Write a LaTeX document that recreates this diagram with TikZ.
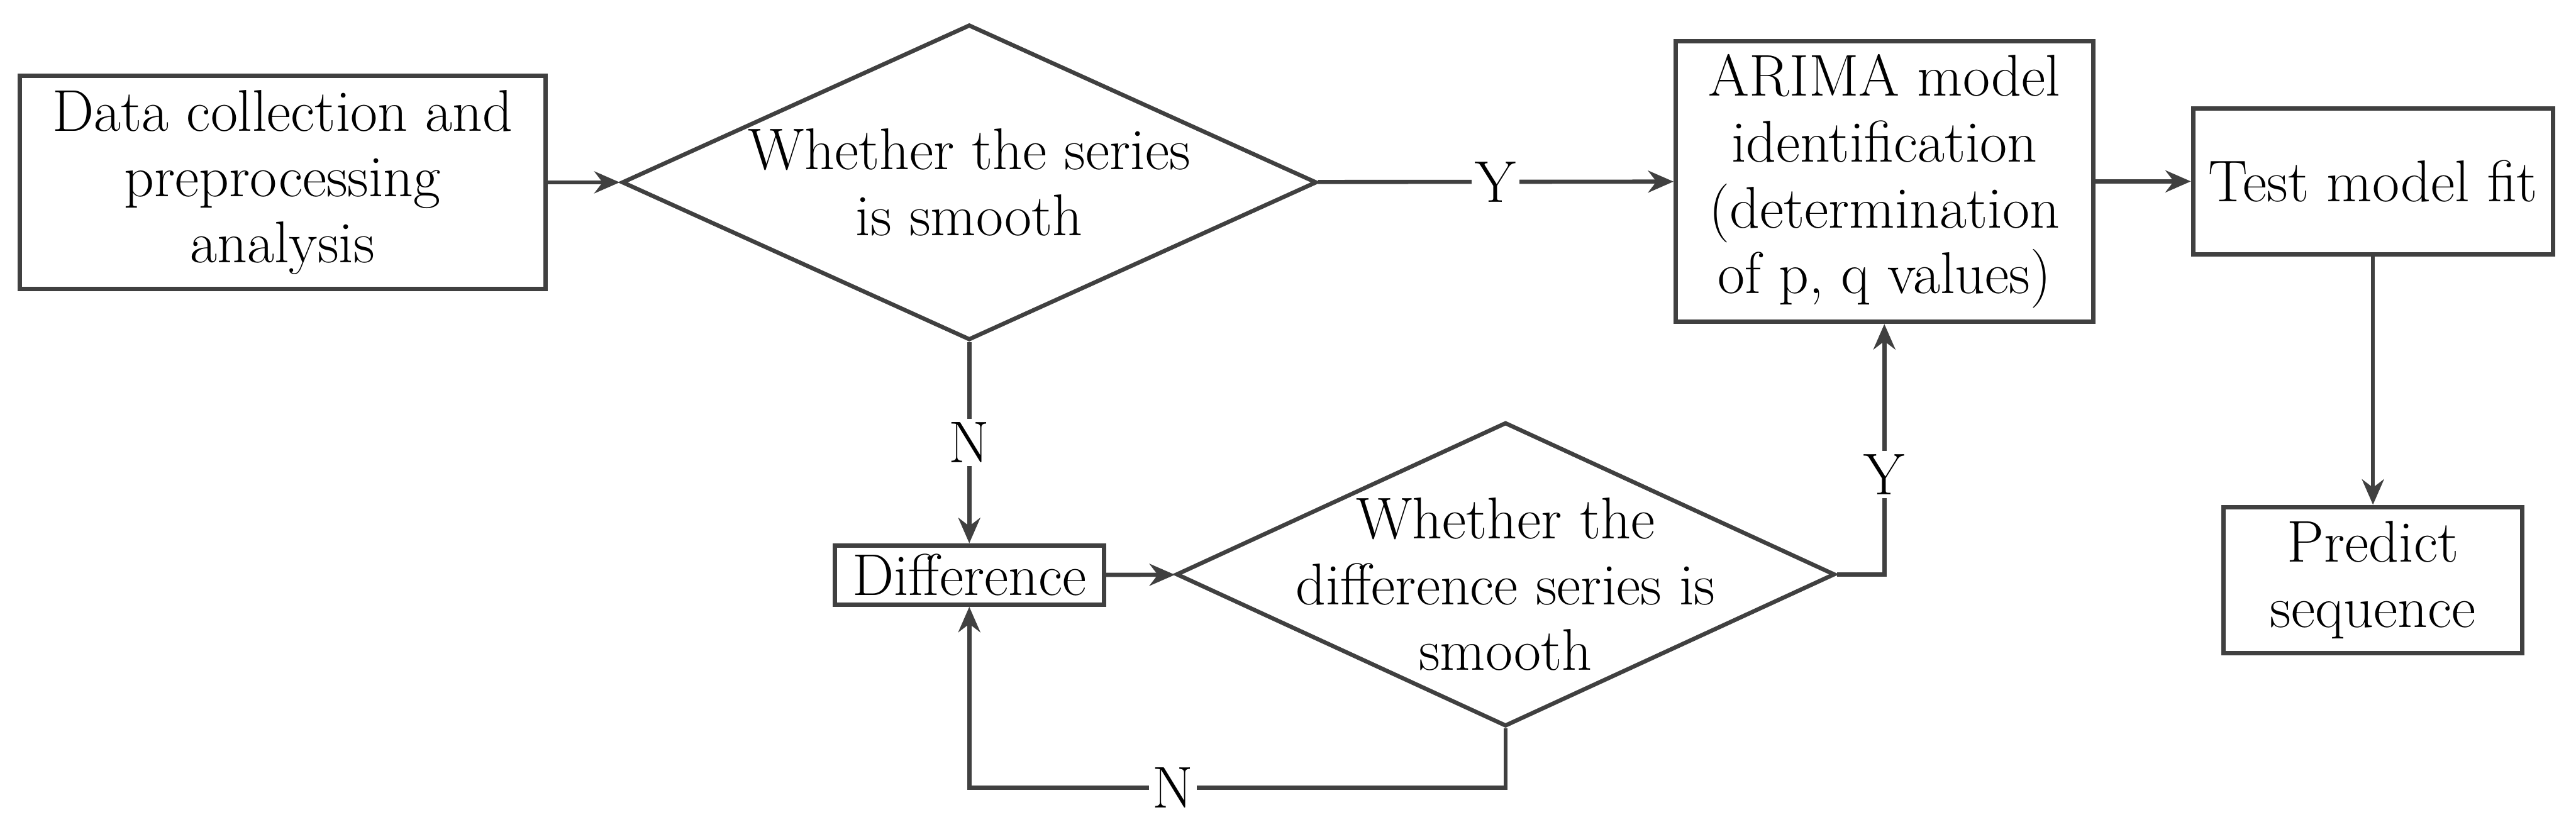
\documentclass[tikz,border=0pt]{standalone}
\usepackage{tikz}
\usetikzlibrary{positioning,arrows.meta,shapes.geometric}
\definecolor{linegray}{HTML}{404040}

\begin{document}
\begin{tikzpicture}[font=\fontsize{25.5}{28.5}\selectfont, >={Stealth[length=11pt,width=9.5pt]},
  box/.style={draw=linegray, line width=1.9pt, align=center, inner sep=0pt},
  dec/.style={draw=linegray, line width=1.8pt, diamond, inner sep=0pt},
  txt/.style={align=center, inner sep=0pt},
  lbl/.style={fill=white, inner sep=1.5pt},
  link/.style={draw=linegray, line width=1.8pt}]
\useasboundingbox (0,0) rectangle (39.2,12.5);
\node[box, minimum width=8cm, minimum height=3.25cm] (data) at (4.3,9.725) {Data collection and\\preprocessing\\analysis};
\node[dec, minimum width=10.575cm, minimum height=4.8cm] (smooth) at (14.75,9.725) {};
\node[txt] (smoothtxt) at (smooth.center) {Whether the series\\is smooth};
\node[box, minimum width=6.35cm, minimum height=4.275cm] (arima) at (28.675,9.74) {ARIMA model\\identification\\(determination\\of p, q values)};
\node[box, minimum width=5.475cm, minimum height=2.225cm] (fit) at (36.11,9.74) {Test model fit};
\node[box, minimum width=4.55cm, minimum height=2.225cm, below=3.775cm of fit] (predict) {Predict\\sequence};
\node[box, minimum width=4.1cm, minimum height=0.9cm] (diff) at (14.75,3.75) {Difference};
\node[dec, minimum width=10.025cm, minimum height=4.625cm] (dsmooth) at (22.91,3.76) {};
\node[txt, yshift=-1.5mm] (dsmoothtxt) at (dsmooth.center) {Whether the\\difference series is\\smooth};
\draw[link,->] (data) -- (smooth);
\draw[link,->] (smooth) -- node[lbl] {Y} (arima);
\draw[link,->] (arima) -- (fit);
\draw[link,->] (fit) -- (predict);
\draw[link,->] (smooth) -- node[lbl] {N} (diff);
\draw[link,->] (diff) -- (dsmooth);
\draw[link,->] (dsmooth.east) -| node[lbl, pos=0.7] {Y} (arima.south);
\draw[link,->] (dsmooth.south) -- ++(0,-0.9) -| node[lbl, pos=0.31] {N} (diff.south);
\end{tikzpicture}
\end{document}
